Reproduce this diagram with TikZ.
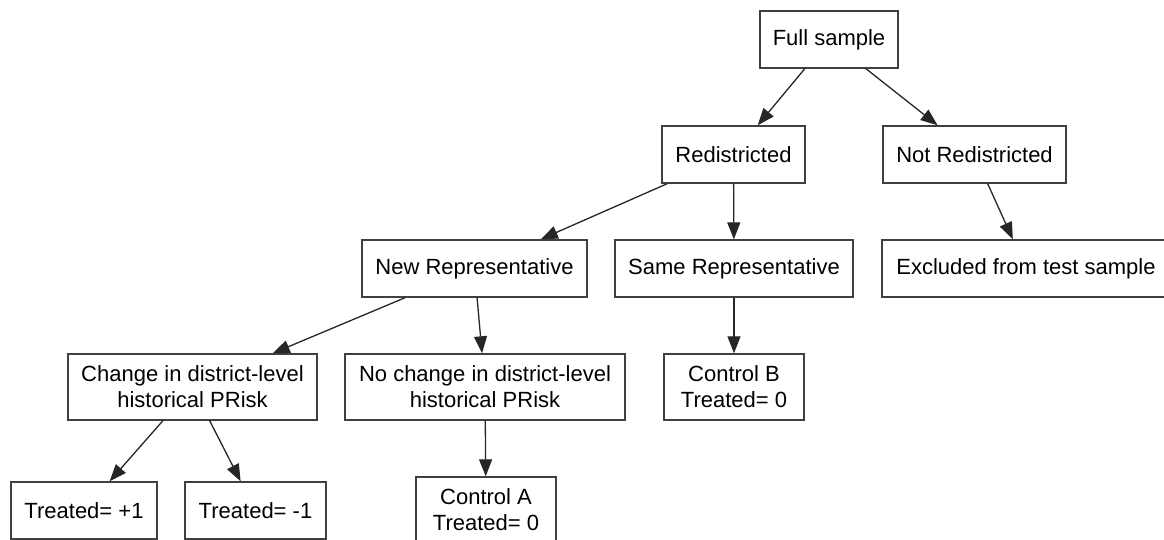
\documentclass[tikz,border=0pt]{standalone}
\usepackage{fontspec}
\setmainfont{Liberation Sans}
\usetikzlibrary{arrows.meta}
\begin{document}
\begin{tikzpicture}[x=1pt,y=-1pt,
  box/.style={draw=black!75, line width=1.4pt, rectangle, inner sep=0pt, align=center,
    font=\fontsize{22}{26}\selectfont, minimum height=57pt},
  tall/.style={minimum height=66pt},
  conn/.style={draw=black!85, line width=1.3pt, -{Triangle[length=17pt,width=13pt]}}]
\useasboundingbox (0,0) rectangle (1164,540);
\node[box, minimum width=138pt] (full) at (829,39.5) {Full sample};
\node[box, minimum width=143pt] (red) at (733.5,154.5) {Redistricted};
\node[box, minimum width=183pt] (notred) at (974.5,154.5) {Not Redistricted};
\node[box, minimum width=225pt] (newrep) at (474.5,268.5) {New Representative};
\node[box, minimum width=238pt] (samerep) at (734,268.5) {Same Representative};
\node[box, minimum width=288pt] (excl) at (1026,268.5) {Excluded from test sample};
\node[box, tall, minimum width=249pt] (change) at (192.5,387) {Change in district-level\\historical PRisk};
\node[box, tall, minimum width=280pt] (nochange) at (485,387) {No change in district-level\\historical PRisk};
\node[box, tall, minimum width=140pt] (ctrlB) at (734,387) {Control B\\Treated= 0};
\node[box, minimum width=146pt] (tp) at (84,510.5) {Treated= +1};
\node[box, minimum width=141pt] (tm) at (255.5,510.5) {Treated= -1};
\node[box, tall, minimum width=140pt] (ctrlA) at (486,510) {Control A\\Treated= 0};
\draw[conn] (full) -- (red);
\draw[conn] (full) -- (notred);
\draw[conn] (red) -- (newrep);
\draw[conn] (red) -- (samerep);
\draw[conn] (notred) -- (excl);
\draw[conn] (newrep) -- (change);
\draw[conn] (newrep) -- (nochange);
\draw[conn] (samerep) -- (ctrlB);
\draw[conn] (change) -- (tp);
\draw[conn] (change) -- (tm);
\draw[conn] (nochange) -- (ctrlA);
\end{tikzpicture}
\end{document}
